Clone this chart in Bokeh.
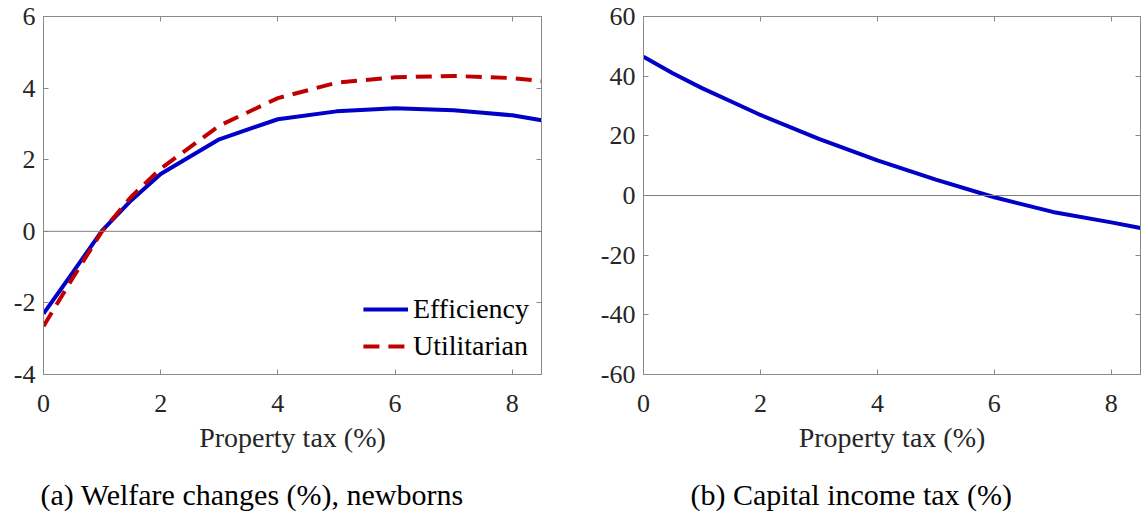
from bokeh.plotting import figure
from bokeh.models import (FixedTicker, LinearAxis, Span, Title, Legend, LegendItem, Range1d,
                          CustomLabelingPolicy)
from bokeh.layouts import row
from bokeh.embed import file_html
from bokeh.resources import INLINE

# ---- data ----
x_left = [0, 0.5, 1, 1.5, 2, 3, 4, 5, 6, 7, 7.5, 8, 8.5]
efficiency = [-2.3, -1.15, 0.02, 0.87, 1.6, 2.57, 3.13, 3.35, 3.44, 3.38, 3.31, 3.24, 3.1]
utilitarian = [-2.65, -1.3, 0.0, 0.97, 1.75, 2.95, 3.72, 4.15, 4.3, 4.34, 4.31, 4.28, 4.2]

x_right = [0, 0.5, 1, 1.5, 2, 3, 4, 5, 6, 7, 8, 8.5]
capital_tax = [46.5, 41, 36, 31.5, 27, 19, 11.8, 5.3, -0.6, -5.5, -9.0, -10.9]

x_ticks = [0, 2, 4, 6, 8]
y_ticks_left = [-4, -2, 0, 2, 4, 6]
y_ticks_right = [-60, -40, -20, 0, 20, 40, 60]

xlabel = "Property tax (%)"
caption_a = "(a) Welfare changes (%), newborns"
caption_b = "(b) Capital income tax (%)"

FONT = "Liberation Serif"
AX_COLOR = "#8a8a8a"
TXT_COLOR = "#262626"
BLUE = "#0000c8"
RED = "#c00000"


def style(p, yticks):
    p.outline_line_color = AX_COLOR
    p.outline_line_width = 1
    p.grid.visible = False
    p.background_fill_color = "white"
    p.border_fill_color = "white"
    # extra axes on top and right (box with inward ticks)
    p.add_layout(LinearAxis(), "above")
    p.add_layout(LinearAxis(), "right")
    for ax in p.xaxis:
        ax.ticker = FixedTicker(ticks=x_ticks)
        ax.major_label_overrides = {t: str(t) for t in x_ticks}
    for ax in p.yaxis:
        ax.ticker = FixedTicker(ticks=yticks)
        ax.major_label_overrides = {t: str(t) for t in yticks}
    for ax in p.axis:
        ax.axis_line_color = AX_COLOR
        ax.major_tick_line_color = AX_COLOR
        ax.major_tick_in = 5
        ax.major_tick_out = 0
        ax.minor_tick_line_color = None
        ax.major_label_text_font = FONT
        ax.major_label_text_font_size = "26px"
        ax.major_label_text_color = TXT_COLOR
        ax.axis_label_text_font = FONT
        ax.axis_label_text_font_style = "normal"
        ax.axis_label_text_font_size = "28px"
        ax.axis_label_text_color = TXT_COLOR
    # hide labels on top/right axes
    for ax in (p.above[0], p.right[0]):
        ax.major_label_policy = CustomLabelingPolicy(code="if (false) { yield 0 }")
        ax.major_label_text_font_size = "0px"
        ax.major_label_standoff = 0
    p.below[0].major_label_standoff = 20
    p.below[0].axis_label = xlabel
    p.below[0].axis_label_standoff = 7
    p.left[0].major_label_standoff = 8
    p.add_layout(Span(location=0, dimension="width", line_color="#808080", line_width=1))


# ---- left panel ----
p1 = figure(frame_width=498, frame_height=358, output_backend="svg", toolbar_location=None,
            x_range=Range1d(0, 8.5), y_range=Range1d(-4, 6),
            min_border_left=43, min_border_right=12, min_border_top=16, min_border_bottom=0)
style(p1, y_ticks_left)
r_eff = p1.line(x_left, efficiency, line_color=BLUE, line_width=4)
r_util = p1.line(x_left, utilitarian, line_color=RED, line_width=4, line_dash="16 9")
leg = Legend(items=[LegendItem(label="Efficiency", renderers=[r_eff]),
                    LegendItem(label="Utilitarian", renderers=[r_util])],
             location="bottom_right", border_line_color=None, background_fill_alpha=0,
             label_text_font=FONT, label_text_font_size="28px", label_text_color="black",
             glyph_width=45, glyph_height=26, label_height=26, label_standoff=5,
             spacing=5, padding=5, margin=12)
p1.add_layout(leg)
t1 = Title(text=caption_a, align="left", text_font=FONT, text_font_size="30px",
           text_font_style="normal", text_color="black", offset=-3, standoff=40)
p1.add_layout(t1, "below")

# ---- right panel ----
p2 = figure(frame_width=497, frame_height=358, output_backend="svg", toolbar_location=None,
            x_range=Range1d(0, 8.5), y_range=Range1d(-60, 60),
            min_border_left=90, min_border_right=1, min_border_top=16, min_border_bottom=0)
style(p2, y_ticks_right)
p2.line(x_right, capital_tax, line_color=BLUE, line_width=4)
t2 = Title(text=caption_b, align="left", text_font=FONT, text_font_size="30px",
           text_font_style="normal", text_color="black", offset=47, standoff=40)
p2.add_layout(t2, "below")

layout = row(p1, p2, spacing=0)
open("out.html", "w").write(file_html(layout, INLINE))
